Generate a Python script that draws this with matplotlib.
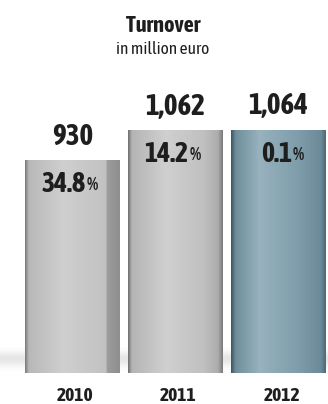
import numpy as np
import matplotlib
matplotlib.use("Agg")
import matplotlib.pyplot as plt
from matplotlib.colors import LinearSegmentedColormap

years = ["2010", "2011", "2012"]
turnover = [930, 1062, 1064]
turnover_labels = ["930", "1,062", "1,064"]
growth_labels = ["34.8", "14.2", "0.1"]

plt.rcParams['font.family'] = ['Asap Condensed', 'DejaVu Sans']

fig = plt.figure(figsize=(3.28, 4.04), dpi=100)
ax = fig.add_axes([0, 31 / 404, 1, 373 / 404])
ax.set_xlim(-0.70, 2.48)
ax.axis('off')

# 2010 bar has a darker side facet on the right
grey_side = LinearSegmentedColormap.from_list(
    "grey_side", [(0, "#7a7a7a"), (0.04, "#b8b8b8"), (0.4, "#cfcfcf"),
                  (0.85, "#c2c2c2"), (0.87, "#9c9c9c"), (1, "#8e8e8e")])
grey = LinearSegmentedColormap.from_list(
    "grey", [(0, "#6e6e6e"), (0.04, "#b4b4b4"), (0.4, "#d0d0d0"),
             (0.8, "#c0c0c0"), (0.95, "#acacac"), (1, "#7a7a7a")])
blue = LinearSegmentedColormap.from_list(
    "blue", [(0, "#3d5660"), (0.05, "#6f8e9c"), (0.3, "#98b2be"),
             (0.7, "#7f9dab"), (0.95, "#6c8a98"), (1, "#4e6a76")])
cmaps = [grey_side, grey, blue]

x = np.arange(len(years))
width = 0.92
bars = ax.bar(x, turnover, width=width, color="none", edgecolor="none", zorder=2)

grad = np.linspace(0, 1, 256).reshape(1, -1)
for bar, cmap in zip(bars, cmaps):
    x0 = bar.get_x()
    h = bar.get_height()
    im = ax.imshow(grad, cmap=cmap, aspect='auto', zorder=3,
                   extent=[x0, x0 + width, 0, h])
    im.set_clip_path(bar)

# soft floor shadow
shadow = np.exp(-(np.linspace(-1.0, 1.8, 60) * 1.6) ** 2).reshape(-1, 1) * np.ones((1, 10))
ax.imshow(shadow, cmap=LinearSegmentedColormap.from_list("sh", ["#ffffff", "#e6e6e6"]),
          aspect='auto', extent=[-0.70, 2.48, -30, 110], zorder=1)
ax.set_ylim(0, 1630)

for i, (val, lab, g) in enumerate(zip(turnover, turnover_labels, growth_labels)):
    ax.text(x[i], val + 40, lab, ha='center', va='bottom',
            fontsize=21, fontweight='bold', color="#1e1e1e", zorder=5)
    ax.text(x[i] + 0.13, val - 48, g, ha='right', va='top',
            fontsize=20, fontweight='bold', color="#1e1e1e", zorder=5)
    ax.text(x[i] + 0.135, val - 48 - 22, "%", ha='left', va='top',
            fontsize=13, fontweight='semibold', color="#1e1e1e", zorder=5)

for i, yr in enumerate(years):
    ax.text(x[i] + 0.03, -62, yr, ha='center', va='top', fontsize=14,
            fontweight='bold', color="#1e1e1e", clip_on=False)

fig.text(0.497, 1 - 26 / 404, "Turnover", ha='center', va='center',
         fontsize=16, fontweight='bold', color="#1e1e1e")
fig.text(0.497, 1 - 50 / 404, "in million euro", ha='center', va='center',
         fontsize=12.5, color="#1e1e1e")

fig.savefig("out.png", dpi=100)
